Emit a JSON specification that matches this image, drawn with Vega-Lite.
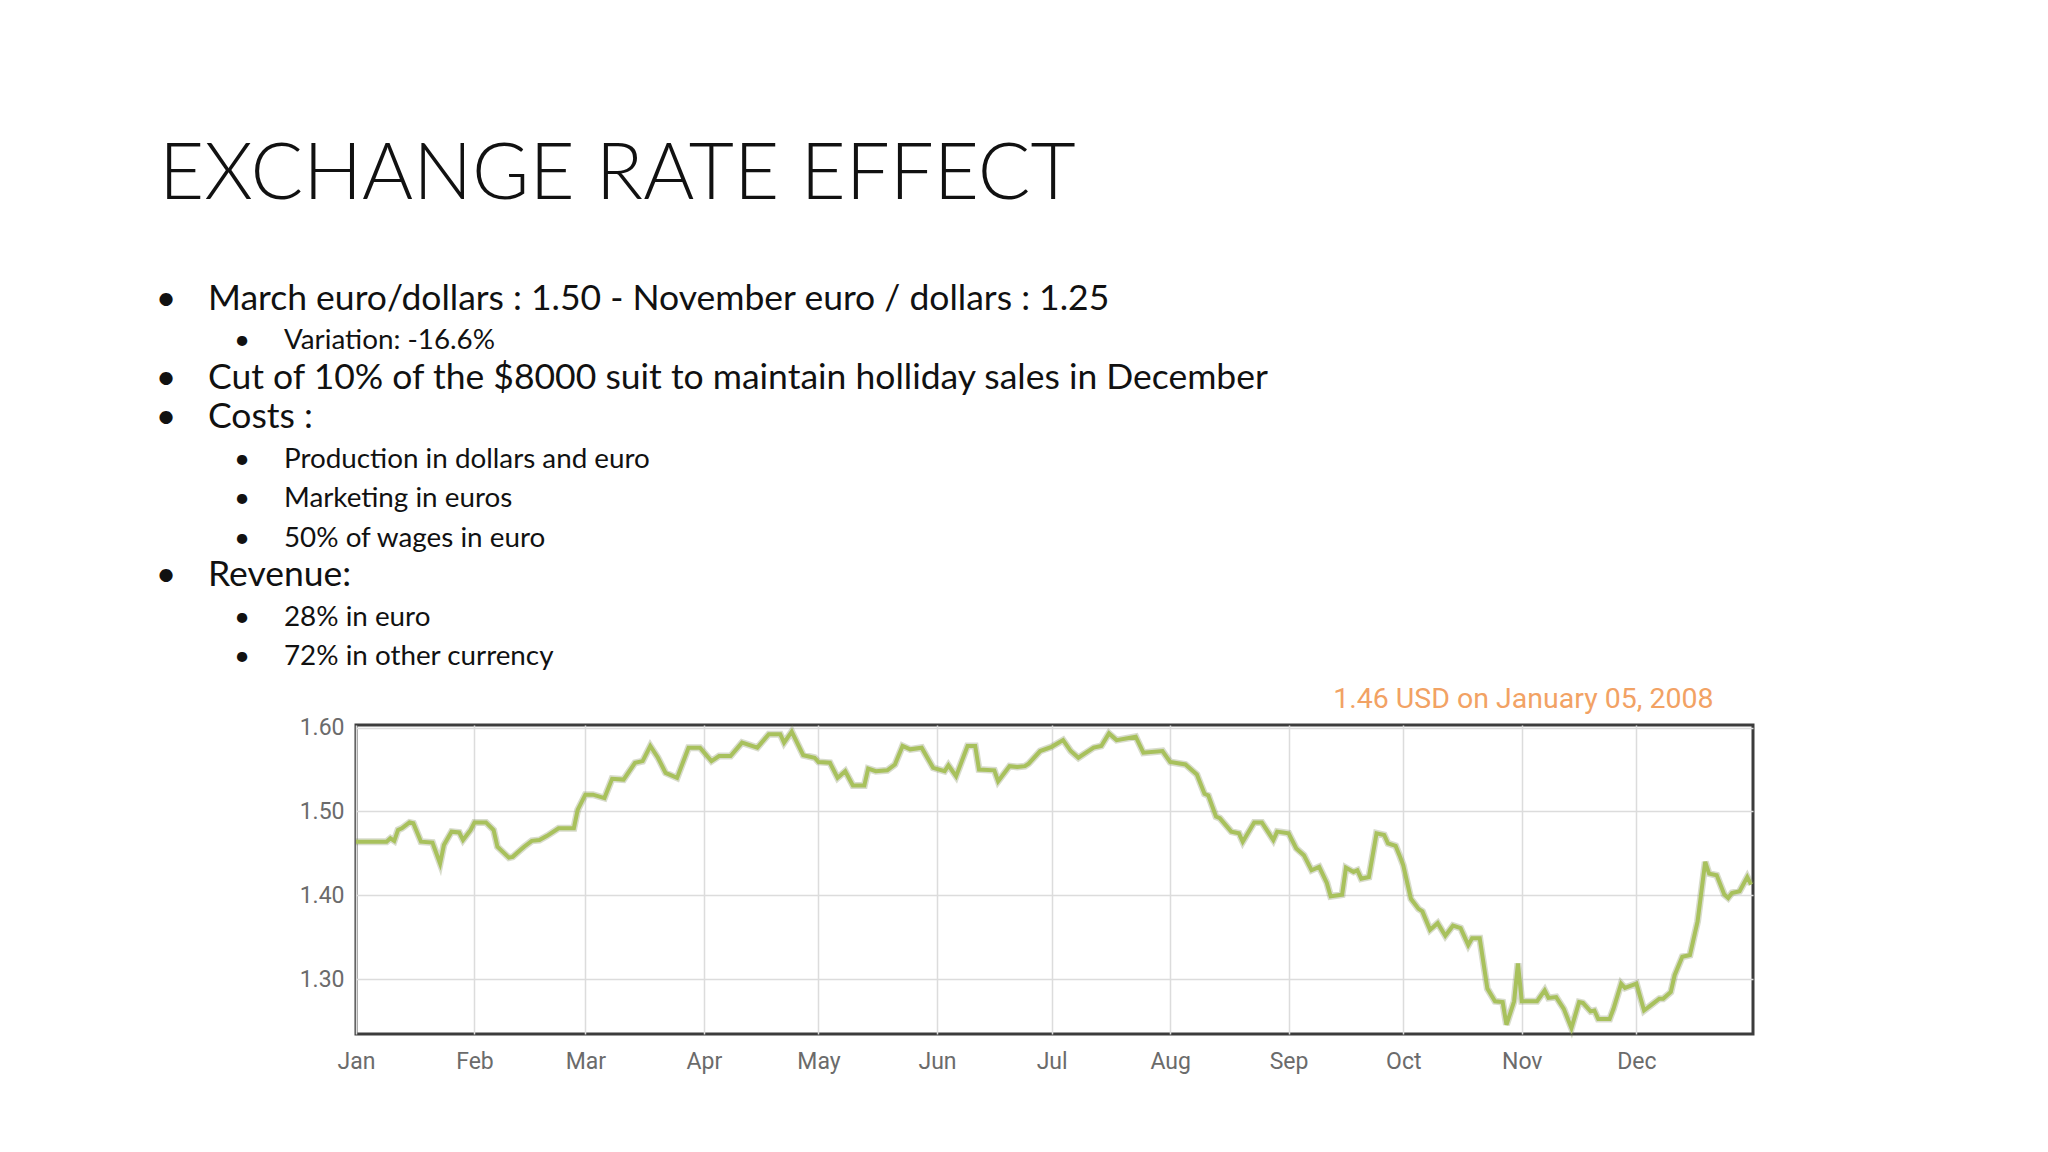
{
  "$schema": "https://vega.github.io/schema/vega-lite/v6.json",
  "width": 1397,
  "height": 309,
  "autosize": {"type": "none"},
  "padding": {"left": 356, "top": 725, "right": 295, "bottom": 118},
  "background": "#ffffff",
  "config": {
    "view": {"stroke": "#3c3c3c", "strokeWidth": 3}
  },
  "datasets": {
    "slide": [
      {"line": 0, "indent": 0, "text": "EXCHANGE RATE EFFECT"},
      {"line": 1, "indent": 0, "text": "March euro/dollars : 1.50 - November euro / dollars : 1.25"},
      {"line": 2, "indent": 1, "text": "Variation: -16.6%"},
      {"line": 3, "indent": 0, "text": "Cut of 10% of the $8000 suit to maintain holliday sales in December"},
      {"line": 4, "indent": 0, "text": "Costs :"},
      {"line": 5, "indent": 1, "text": "Production in dollars and euro"},
      {"line": 6, "indent": 1, "text": "Marketing in euros"},
      {"line": 7, "indent": 1, "text": "50% of wages in euro"},
      {"line": 8, "indent": 0, "text": "Revenue:"},
      {"line": 9, "indent": 1, "text": "28% in euro"},
      {"line": 10, "indent": 1, "text": "72% in other currency"}
    ],
    "rates": [
      {"date": "2008-01-01", "rate": 1.464},
      {"date": "2008-01-09", "rate": 1.464},
      {"date": "2008-01-10", "rate": 1.468},
      {"date": "2008-01-11", "rate": 1.465},
      {"date": "2008-01-12", "rate": 1.478},
      {"date": "2008-01-13", "rate": 1.480},
      {"date": "2008-01-15", "rate": 1.487},
      {"date": "2008-01-16", "rate": 1.486},
      {"date": "2008-01-18", "rate": 1.464},
      {"date": "2008-01-21", "rate": 1.463},
      {"date": "2008-01-23", "rate": 1.438},
      {"date": "2008-01-24", "rate": 1.460},
      {"date": "2008-01-26", "rate": 1.476},
      {"date": "2008-01-28", "rate": 1.475},
      {"date": "2008-01-29", "rate": 1.466},
      {"date": "2008-01-31", "rate": 1.478},
      {"date": "2008-02-01", "rate": 1.487},
      {"date": "2008-02-04", "rate": 1.487},
      {"date": "2008-02-06", "rate": 1.478},
      {"date": "2008-02-07", "rate": 1.458},
      {"date": "2008-02-10", "rate": 1.445},
      {"date": "2008-02-11", "rate": 1.446},
      {"date": "2008-02-13", "rate": 1.454},
      {"date": "2008-02-14", "rate": 1.458},
      {"date": "2008-02-16", "rate": 1.465},
      {"date": "2008-02-18", "rate": 1.466},
      {"date": "2008-02-20", "rate": 1.471},
      {"date": "2008-02-23", "rate": 1.480},
      {"date": "2008-02-27", "rate": 1.480},
      {"date": "2008-02-28", "rate": 1.502},
      {"date": "2008-03-01", "rate": 1.520},
      {"date": "2008-03-03", "rate": 1.520},
      {"date": "2008-03-06", "rate": 1.516},
      {"date": "2008-03-08", "rate": 1.539},
      {"date": "2008-03-11", "rate": 1.538},
      {"date": "2008-03-14", "rate": 1.558},
      {"date": "2008-03-16", "rate": 1.560},
      {"date": "2008-03-18", "rate": 1.578},
      {"date": "2008-03-20", "rate": 1.564},
      {"date": "2008-03-22", "rate": 1.546},
      {"date": "2008-03-25", "rate": 1.540},
      {"date": "2008-03-28", "rate": 1.576},
      {"date": "2008-03-31", "rate": 1.576},
      {"date": "2008-04-03", "rate": 1.560},
      {"date": "2008-04-05", "rate": 1.566},
      {"date": "2008-04-08", "rate": 1.566},
      {"date": "2008-04-11", "rate": 1.582},
      {"date": "2008-04-15", "rate": 1.576},
      {"date": "2008-04-18", "rate": 1.592},
      {"date": "2008-04-21", "rate": 1.592},
      {"date": "2008-04-22", "rate": 1.582},
      {"date": "2008-04-24", "rate": 1.595},
      {"date": "2008-04-27", "rate": 1.567},
      {"date": "2008-04-30", "rate": 1.564},
      {"date": "2008-05-01", "rate": 1.559},
      {"date": "2008-05-04", "rate": 1.558},
      {"date": "2008-05-06", "rate": 1.540},
      {"date": "2008-05-08", "rate": 1.548},
      {"date": "2008-05-10", "rate": 1.531},
      {"date": "2008-05-13", "rate": 1.531},
      {"date": "2008-05-14", "rate": 1.551},
      {"date": "2008-05-16", "rate": 1.548},
      {"date": "2008-05-19", "rate": 1.549},
      {"date": "2008-05-21", "rate": 1.556},
      {"date": "2008-05-23", "rate": 1.578},
      {"date": "2008-05-25", "rate": 1.574},
      {"date": "2008-05-28", "rate": 1.576},
      {"date": "2008-05-31", "rate": 1.552},
      {"date": "2008-06-03", "rate": 1.548},
      {"date": "2008-06-04", "rate": 1.555},
      {"date": "2008-06-06", "rate": 1.542},
      {"date": "2008-06-09", "rate": 1.578},
      {"date": "2008-06-11", "rate": 1.578},
      {"date": "2008-06-12", "rate": 1.550},
      {"date": "2008-06-16", "rate": 1.549},
      {"date": "2008-06-17", "rate": 1.536},
      {"date": "2008-06-20", "rate": 1.554},
      {"date": "2008-06-22", "rate": 1.553},
      {"date": "2008-06-24", "rate": 1.554},
      {"date": "2008-06-25", "rate": 1.557},
      {"date": "2008-06-28", "rate": 1.572},
      {"date": "2008-07-01", "rate": 1.577},
      {"date": "2008-07-04", "rate": 1.585},
      {"date": "2008-07-06", "rate": 1.572},
      {"date": "2008-07-08", "rate": 1.564},
      {"date": "2008-07-12", "rate": 1.576},
      {"date": "2008-07-14", "rate": 1.578},
      {"date": "2008-07-16", "rate": 1.593},
      {"date": "2008-07-18", "rate": 1.585},
      {"date": "2008-07-23", "rate": 1.589},
      {"date": "2008-07-25", "rate": 1.570},
      {"date": "2008-07-30", "rate": 1.572},
      {"date": "2008-08-01", "rate": 1.559},
      {"date": "2008-08-05", "rate": 1.556},
      {"date": "2008-08-08", "rate": 1.544},
      {"date": "2008-08-10", "rate": 1.521},
      {"date": "2008-08-11", "rate": 1.519},
      {"date": "2008-08-13", "rate": 1.494},
      {"date": "2008-08-14", "rate": 1.492},
      {"date": "2008-08-17", "rate": 1.476},
      {"date": "2008-08-19", "rate": 1.474},
      {"date": "2008-08-20", "rate": 1.464},
      {"date": "2008-08-23", "rate": 1.487},
      {"date": "2008-08-25", "rate": 1.487},
      {"date": "2008-08-28", "rate": 1.466},
      {"date": "2008-08-29", "rate": 1.476},
      {"date": "2008-09-01", "rate": 1.474},
      {"date": "2008-09-03", "rate": 1.456},
      {"date": "2008-09-05", "rate": 1.448},
      {"date": "2008-09-07", "rate": 1.430},
      {"date": "2008-09-09", "rate": 1.434},
      {"date": "2008-09-11", "rate": 1.415},
      {"date": "2008-09-12", "rate": 1.399},
      {"date": "2008-09-15", "rate": 1.401},
      {"date": "2008-09-16", "rate": 1.433},
      {"date": "2008-09-18", "rate": 1.428},
      {"date": "2008-09-19", "rate": 1.430},
      {"date": "2008-09-20", "rate": 1.420},
      {"date": "2008-09-22", "rate": 1.422},
      {"date": "2008-09-24", "rate": 1.474},
      {"date": "2008-09-26", "rate": 1.472},
      {"date": "2008-09-27", "rate": 1.462},
      {"date": "2008-09-29", "rate": 1.459},
      {"date": "2008-09-30", "rate": 1.448},
      {"date": "2008-10-01", "rate": 1.436},
      {"date": "2008-10-03", "rate": 1.396},
      {"date": "2008-10-05", "rate": 1.384},
      {"date": "2008-10-06", "rate": 1.381},
      {"date": "2008-10-08", "rate": 1.359},
      {"date": "2008-10-10", "rate": 1.367},
      {"date": "2008-10-12", "rate": 1.352},
      {"date": "2008-10-14", "rate": 1.364},
      {"date": "2008-10-16", "rate": 1.361},
      {"date": "2008-10-18", "rate": 1.341},
      {"date": "2008-10-19", "rate": 1.349},
      {"date": "2008-10-21", "rate": 1.349},
      {"date": "2008-10-23", "rate": 1.289},
      {"date": "2008-10-25", "rate": 1.274},
      {"date": "2008-10-27", "rate": 1.273},
      {"date": "2008-10-28", "rate": 1.246},
      {"date": "2008-10-30", "rate": 1.274},
      {"date": "2008-10-31", "rate": 1.319},
      {"date": "2008-11-01", "rate": 1.274},
      {"date": "2008-11-05", "rate": 1.274},
      {"date": "2008-11-07", "rate": 1.287},
      {"date": "2008-11-08", "rate": 1.278},
      {"date": "2008-11-10", "rate": 1.279},
      {"date": "2008-11-12", "rate": 1.265},
      {"date": "2008-11-14", "rate": 1.242},
      {"date": "2008-11-16", "rate": 1.273},
      {"date": "2008-11-17", "rate": 1.272},
      {"date": "2008-11-19", "rate": 1.262},
      {"date": "2008-11-20", "rate": 1.263},
      {"date": "2008-11-21", "rate": 1.253},
      {"date": "2008-11-24", "rate": 1.253},
      {"date": "2008-11-25", "rate": 1.265},
      {"date": "2008-11-27", "rate": 1.295},
      {"date": "2008-11-28", "rate": 1.290},
      {"date": "2008-12-01", "rate": 1.295},
      {"date": "2008-12-03", "rate": 1.263},
      {"date": "2008-12-05", "rate": 1.270},
      {"date": "2008-12-07", "rate": 1.277},
      {"date": "2008-12-08", "rate": 1.277},
      {"date": "2008-12-10", "rate": 1.285},
      {"date": "2008-12-11", "rate": 1.305},
      {"date": "2008-12-13", "rate": 1.327},
      {"date": "2008-12-15", "rate": 1.329},
      {"date": "2008-12-17", "rate": 1.369},
      {"date": "2008-12-19", "rate": 1.440},
      {"date": "2008-12-20", "rate": 1.426},
      {"date": "2008-12-22", "rate": 1.424},
      {"date": "2008-12-24", "rate": 1.401},
      {"date": "2008-12-25", "rate": 1.397},
      {"date": "2008-12-26", "rate": 1.403},
      {"date": "2008-12-28", "rate": 1.405},
      {"date": "2008-12-30", "rate": 1.422},
      {"date": "2008-12-31", "rate": 1.413}
    ]
  },
  "layer": [
    {
      "data": {"name": "rates"},
      "encoding": {
        "x": {
          "field": "date",
          "type": "temporal",
          "scale": {
            "type": "utc",
            "domain": [
              {"year": 2008, "month": 1, "date": 1, "utc": true},
              {"year": 2008, "month": 12, "date": 31, "hours": 12, "utc": true}
            ]
          },
          "axis": {
            "orient": "bottom",
            "title": null,
            "tickCount": {"interval": "month", "step": 1},
            "labelExpr": "utcFormat(datum.value, '%b')",
            "grid": true,
            "gridColor": "#dcdcdc",
            "gridWidth": 1.5,
            "domain": false,
            "ticks": false,
            "labelFont": "Roboto",
            "labelFontSize": 23,
            "labelColor": "#6b6b6b",
            "labelPadding": 16,
            "labelFlush": false,
            "labelOverlap": false
          }
        },
        "y": {
          "field": "rate",
          "type": "quantitative",
          "scale": {"domain": [1.235, 1.603], "nice": false, "zero": false},
          "axis": {
            "orient": "left",
            "values": [1.3, 1.4, 1.5, 1.6],
            "format": ".2f",
            "grid": true,
            "gridColor": "#dcdcdc",
            "gridWidth": 1.5,
            "domain": false,
            "ticks": false,
            "labelFont": "Roboto",
            "labelFontSize": 23,
            "labelColor": "#6b6b6b",
            "labelPadding": 12,
            "title": "1.46 USD on January 05, 2008",
            "titleAngle": 0,
            "titleAlign": "right",
            "titleBaseline": "alphabetic",
            "titleX": 1357,
            "titleY": -18,
            "titleColor": "#f2a264",
            "titleFont": "Roboto",
            "titleFontSize": 28.5,
            "titleFontWeight": "normal"
          }
        }
      },
      "layer": [
        {"mark": {"type": "line", "color": "#7f8c56", "strokeWidth": 7, "opacity": 0.3}},
        {"mark": {"type": "line", "color": "#a8c15c", "strokeWidth": 4}}
      ]
    },
    {
      "data": {"name": "slide"},
      "transform": [{"filter": "datum.line > 0"}],
      "encoding": {
        "x": {
          "field": "indent",
          "type": "quantitative",
          "scale": {"domain": [0, 1], "range": [-190, -114], "zero": false, "nice": false},
          "axis": null
        },
        "y": {
          "field": "line",
          "type": "quantitative",
          "scale": {"domain": [1, 10], "range": [-415, -60], "zero": false, "nice": false},
          "axis": null
        },
        "size": {
          "field": "indent",
          "type": "ordinal",
          "scale": {"domain": [0, 1], "range": [35.5, 27.8]},
          "legend": null
        }
      },
      "layer": [
        {"mark": {"type": "text", "text": "•", "align": "center", "baseline": "alphabetic", "font": "Lato", "color": "#111111"}},
        {
          "mark": {"type": "text", "align": "left", "baseline": "alphabetic", "dx": 42, "font": "Lato", "color": "#111111"},
          "encoding": {"text": {"field": "text"}}
        }
      ]
    },
    {
      "data": {"name": "slide"},
      "transform": [{"filter": "datum.line == 0"}],
      "mark": {"type": "text", "align": "left", "baseline": "alphabetic", "font": "Lato", "fontWeight": 300, "fontSize": 78, "color": "#111111"},
      "encoding": {
        "x": {
          "field": "indent",
          "type": "quantitative",
          "scale": {"domain": [0, 1], "range": [-197, -120], "zero": false, "nice": false},
          "axis": null
        },
        "y": {
          "field": "line",
          "type": "quantitative",
          "scale": {"domain": [0, 1], "range": [-526, -415], "zero": false, "nice": false},
          "axis": null
        },
        "text": {"field": "text"}
      }
    }
  ],
  "resolve": {"scale": {"x": "independent", "y": "independent"}}
}
